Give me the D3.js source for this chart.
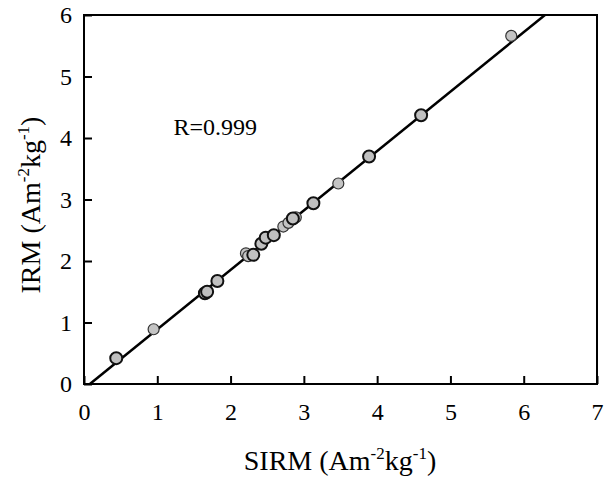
<!DOCTYPE html>
<html>
<head>
<meta charset="utf-8">
<script src="https://cdn.jsdelivr.net/npm/d3@7"></script>
<style>
  body { margin: 0; background: #fff; }
  text { font-family: "Liberation Serif", "Times New Roman", serif; }
</style>
</head>
<body>
<svg id="chart" width="614" height="477"></svg>
<script>
// Samples drawn with a heavy outline
const sirmA = [0.44, 1.65, 1.68, 1.82, 2.31, 2.42, 2.48, 2.59, 2.85, 3.13, 3.89, 4.60];
const irmA  = [0.42, 1.475, 1.50, 1.675, 2.10, 2.28, 2.38, 2.42, 2.69, 2.94, 3.70, 4.37];
// Samples drawn with a light outline
const sirmB = [0.95, 2.21, 2.24, 2.72, 2.79, 2.89, 3.47, 5.83];
const irmB  = [0.89, 2.125, 2.08, 2.56, 2.62, 2.71, 3.26, 5.66];
// Regression line (start and end in data units)
const fitX = [0.08, 6.29];
const fitY = [0, 6];
const xTicks = [0, 1, 2, 3, 4, 5, 6, 7];
const yTicks = [0, 1, 2, 3, 4, 5, 6];
const rLabel = "R=0.999";

const margin = { top: 15, right: 17, bottom: 93, left: 84 };
const width = 614 - margin.left - margin.right;
const height = 477 - margin.top - margin.bottom;

const svg = d3.select("#chart")
  .append("g")
  .attr("transform", `translate(${margin.left},${margin.top})`);

const x = d3.scaleLinear().domain([0, 7]).range([0, width]);
const y = d3.scaleLinear().domain([0, 6]).range([height, 0]);

// Axes with inward ticks
const xAxis = svg.append("g")
  .attr("transform", `translate(0,${height})`)
  .call(d3.axisBottom(x).tickValues(xTicks).tickFormat(d3.format("d")).tickSizeInner(-8).tickSizeOuter(0).tickPadding(19));
const yAxis = svg.append("g")
  .call(d3.axisLeft(y).tickValues(yTicks).tickFormat(d3.format("d")).tickSizeInner(-8).tickSizeOuter(0).tickPadding(12));

[xAxis, yAxis].forEach(g => {
  g.select(".domain").remove();
  g.selectAll(".tick line").attr("stroke", "#000").attr("stroke-width", 2);
  g.selectAll(".tick text").attr("font-size", 24).attr("fill", "#000")
    .style("font-family", "'Liberation Serif', serif");
});

// Frame
svg.append("rect")
  .attr("x", 0).attr("y", 0)
  .attr("width", width).attr("height", height)
  .attr("fill", "none").attr("stroke", "#000").attr("stroke-width", 2);

// Fit line
svg.append("line")
  .attr("x1", x(fitX[0])).attr("y1", y(fitY[0]))
  .attr("x2", x(fitX[1])).attr("y2", y(fitY[1]))
  .attr("stroke", "#000").attr("stroke-width", 2.5);

// Points
const ptsB = sirmB.map((v, i) => ({ x: v, y: irmB[i] }));
const ptsA = sirmA.map((v, i) => ({ x: v, y: irmA[i] }));

svg.selectAll(".ptB").data(ptsB).enter().append("circle")
  .attr("class", "ptB")
  .attr("cx", d => x(d.x)).attr("cy", d => y(d.y)).attr("r", 5.5)
  .attr("fill", "#c4c4c4").attr("stroke", "#333").attr("stroke-width", 1.2);

svg.selectAll(".ptA").data(ptsA).enter().append("circle")
  .attr("class", "ptA")
  .attr("cx", d => x(d.x)).attr("cy", d => y(d.y)).attr("r", 6)
  .attr("fill", "#c0c0c0").attr("stroke", "#111").attr("stroke-width", 2);

// R annotation
svg.append("text")
  .attr("x", x(1.22)).attr("y", y(4.05))
  .attr("font-size", 24).attr("fill", "#000")
  .text(rLabel);

// Axis titles
const xt = d3.select("#chart").append("text")
  .attr("x", 340).attr("y", 470)
  .attr("text-anchor", "middle").attr("font-size", 28).attr("fill", "#000");
xt.append("tspan").text("SIRM (Am");
xt.append("tspan").attr("dy", -11).attr("font-size", 17).text("-2");
xt.append("tspan").attr("dy", 11).text("kg");
xt.append("tspan").attr("dy", -11).attr("font-size", 17).text("-1");
xt.append("tspan").attr("dy", 11).text(")");

const yt = d3.select("#chart").append("text")
  .attr("transform", "translate(40,205) rotate(-90)")
  .attr("text-anchor", "middle").attr("font-size", 28).attr("fill", "#000");
yt.append("tspan").text("IRM (Am");
yt.append("tspan").attr("dy", -11).attr("font-size", 17).text("-2");
yt.append("tspan").attr("dy", 11).text("kg");
yt.append("tspan").attr("dy", -11).attr("font-size", 17).text("-1");
yt.append("tspan").attr("dy", 11).text(")");
</script>
</body>
</html>
